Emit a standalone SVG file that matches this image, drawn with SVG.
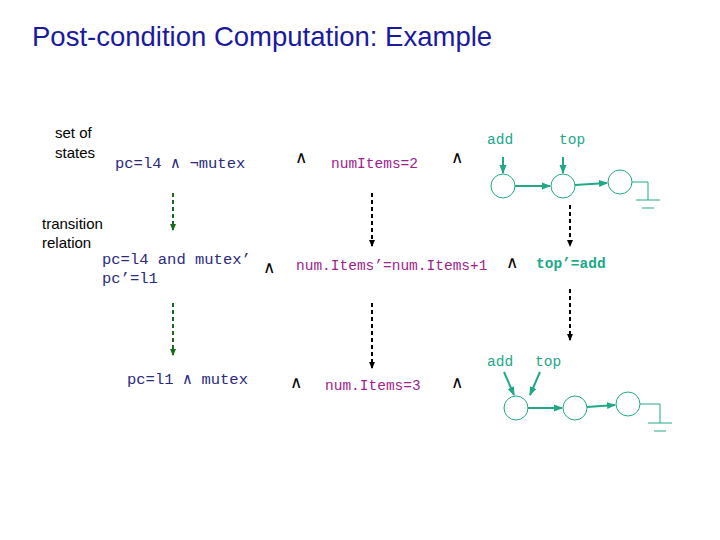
<svg xmlns="http://www.w3.org/2000/svg" width="720" height="540" viewBox="0 0 720 540">
<style>
.m{font-family:"Liberation Mono",monospace;font-size:15.5px}
.mp{font-family:"Liberation Mono",monospace;font-size:14.5px}
.x{font-family:"DejaVu Sans",sans-serif;font-size:17px;fill:#000}
.s{font-family:"Liberation Sans",sans-serif;font-size:15px;fill:#000}
.b{fill:#2a2a80}.p{fill:#a0208c}.t{fill:#20a888}.k{fill:#000}
.n{fill:#fff;stroke:#20a888;stroke-width:1}
.e{stroke:#20a888;stroke-width:2;fill:none}
.g{stroke:#20a888;stroke-width:1;fill:none}
.dg{stroke:#1a6a1a;stroke-width:2;stroke-dasharray:4,3;fill:none}
.dk{stroke:#000;stroke-width:2;stroke-dasharray:4,3;fill:none}
</style>
<defs>
<marker id="ag" markerUnits="userSpaceOnUse" markerWidth="7" markerHeight="7" refX="6" refY="3.5" orient="auto"><path d="M0,0.5L7,3.5L0,6.5z" fill="#1a6a1a"/></marker>
<marker id="ak" markerUnits="userSpaceOnUse" markerWidth="7" markerHeight="7" refX="6" refY="3.5" orient="auto"><path d="M0,0.5L7,3.5L0,6.5z" fill="#000"/></marker>
<marker id="at" markerUnits="userSpaceOnUse" markerWidth="9" markerHeight="9" refX="8" refY="4.5" orient="auto"><path d="M0,1L9,4.5L0,8z" fill="#20a888"/></marker>
</defs>
<rect width="720" height="540" fill="#fff"/>
<text x="32" y="46" font-family="Liberation Sans,sans-serif" font-size="27.5" fill="#1a1aa0">Post-condition Computation: Example</text>
<text class="s" x="55" y="138">set of</text>
<text class="s" x="55" y="158">states</text>
<text class="s" x="42" y="229">transition</text>
<text class="s" x="42" y="248">relation</text>
<g id="row1">
<text class="m b" x="115" y="168">pc=l4 ∧ ¬mutex</text>
<text class="x" x="295" y="163">∧</text>
<text class="mp p" x="331" y="168">numItems=2</text>
<text class="x" x="451" y="163">∧</text>
</g>
<g id="row2">
<text class="m b" x="102" y="264">pc=l4 and mutex’</text>
<text class="m b" x="102" y="283">pc’=l1</text>
<text class="x" x="263" y="273">∧</text>
<text class="mp p" x="296" y="270">num.Items’=num.Items+1</text>
<text class="x" x="506" y="268">∧</text>
<text class="mp t" x="536" y="268" font-weight="bold">top’=add</text>
</g>
<g id="row3">
<text class="m b" x="127" y="384">pc=l1 ∧ mutex</text>
<text class="x" x="290" y="388">∧</text>
<text class="mp p" x="325" y="390">num.Items=3</text>
<text class="x" x="451" y="388">∧</text>
</g>
<g id="list1">
<text class="mp t" x="487" y="144">add</text>
<text class="mp t" x="559" y="144">top</text>
<circle class="n" cx="503" cy="186" r="12"/>
<circle class="n" cx="563" cy="186" r="12"/>
<circle class="n" cx="620" cy="182" r="12"/>
<path class="g" d="M632,182H648V200M636,200H660M642,208H654"/>
</g>
<g id="list2">
<text class="mp t" x="487" y="366">add</text>
<text class="mp t" x="535" y="366">top</text>
<circle class="n" cx="516" cy="408" r="12"/>
<circle class="n" cx="575" cy="408" r="12"/>
<circle class="n" cx="628" cy="404" r="12"/>
<path class="g" d="M640,404H660V423M648,423H672M654,431H666"/>
</g>
<g id="connectors">
<path class="dg" d="M173,193V230" marker-end="url(#ag)"/>
<path class="dg" d="M173,303V355" marker-end="url(#ag)"/>
<path class="dk" d="M372,193V246" marker-end="url(#ak)"/>
<path class="dk" d="M372,303V368" marker-end="url(#ak)"/>
<path class="dk" d="M570,205V246" marker-end="url(#ak)"/>
<path class="dk" d="M570,289V340" marker-end="url(#ak)"/>
<path class="e" d="M503,157V173" marker-end="url(#at)"/>
<path class="e" d="M563,157V173" marker-end="url(#at)"/>
<path class="e" d="M515,186H550" marker-end="url(#at)"/>
<path class="e" d="M575,185L607,183" marker-end="url(#at)"/>
<path class="e" d="M504,372L514,395" marker-end="url(#at)"/>
<path class="e" d="M540,372L530,395" marker-end="url(#at)"/>
<path class="e" d="M528,408H562" marker-end="url(#at)"/>
<path class="e" d="M587,407L615,405" marker-end="url(#at)"/>
</g>
</svg>
